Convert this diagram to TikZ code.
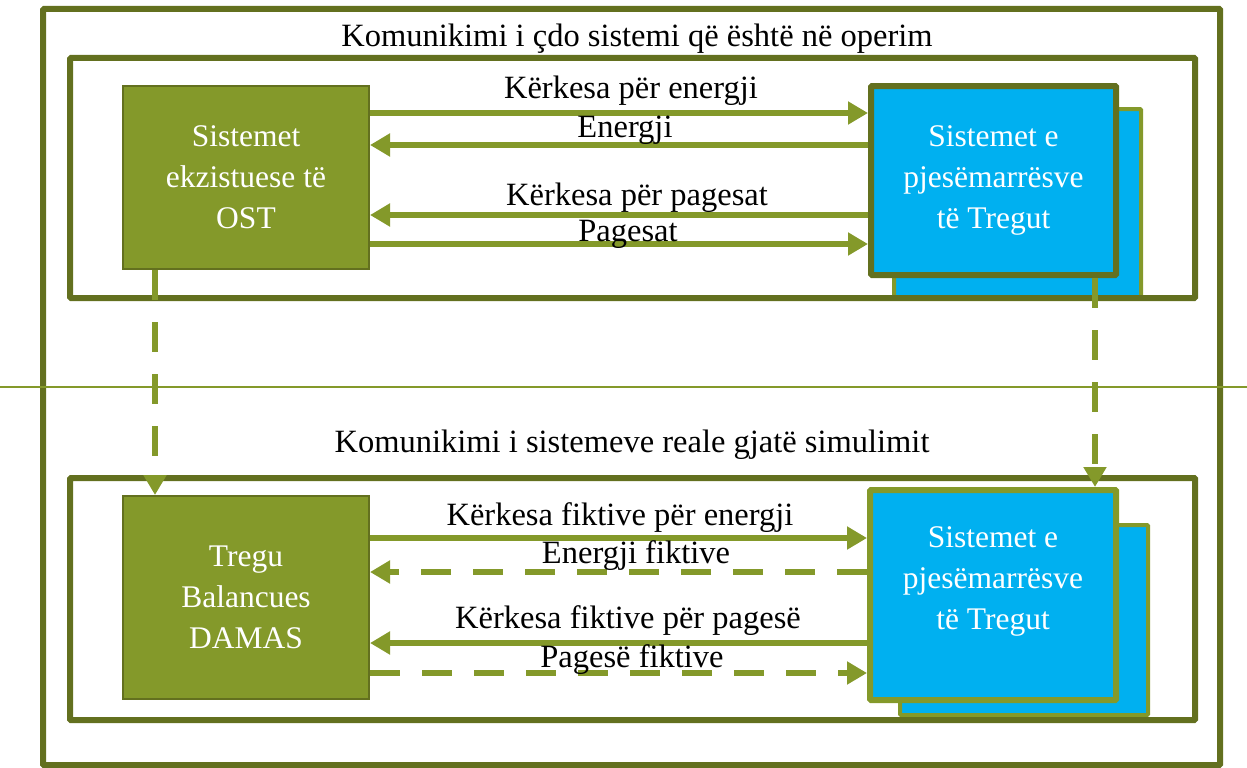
\documentclass[tikz,border=0pt]{standalone}
\usepackage{fontspec}
\setmainfont{Liberation Serif}
\usetikzlibrary{arrows.meta}
\definecolor{dkolive}{HTML}{63701F}
\definecolor{olive}{HTML}{84992A}
\definecolor{skyb}{HTML}{00B0F0}
\tikzset{
  frame/.style={draw=dkolive,line width=6pt,rounded corners=1pt},
  greenbox/.style={fill=olive,draw=dkolive,line width=2pt,inner sep=0pt,text=white,align=center,font=\fontsize{31.5}{41}\selectfont},
  bluefront/.style={fill=skyb,line width=6pt,rounded corners=1pt,inner sep=0pt,text=white,align=center,font=\fontsize{31.5}{41}\selectfont},
  blueback/.style={fill=skyb,draw=olive,line width=4pt,rounded corners=1pt},
  arr/.style={draw=olive,line width=6pt,-{Triangle[length=20pt,width=22pt]}},
  dasharr/.style={arr,dash pattern=on 30pt off 22pt},
  lbl/.style={anchor=base,font=\fontsize{32.5}{36}\selectfont,inner sep=0pt},
}
\begin{document}
\begin{tikzpicture}[x=1pt,y=-1pt]
\useasboundingbox (0,0) rectangle (1247,768);
% outer frame
\draw[frame] (43,9) rectangle (1220,765);
% back blue boxes
\draw[blueback] (894,109) rectangle (1141,298);
\draw[blueback] (900,525) rectangle (1148,715);
% inner frames
\draw[frame] (70,58) rectangle (1195,298);
\draw[frame] (70,478) rectangle (1195,720);
% separator
\draw[draw=olive,line width=2.5pt] (0,387) -- (1247,387);
% titles
\node[lbl] (t1) at (637,47) {Komunikimi i çdo sistemi që është në operim};
\node[lbl] (t2) at (632,452) {Komunikimi i sistemeve reale gjatë simulimit};
% boxes
\node[greenbox,minimum width=246pt,minimum height=183pt] (g1) at (246,177.5) {Sistemet\\ekzistuese të\\OST};
\node[greenbox,minimum width=246pt,minimum height=203pt] (g2) at (246,597.5) {Tregu\\Balancues\\DAMAS};
\node[bluefront,draw=dkolive,minimum width=245pt,minimum height=189pt] (b1) at (993.5,180.5) {Sistemet e\\pjesëmarrësve\\të Tregut};
\node[bluefront,draw=olive,minimum width=246pt,minimum height=210pt] (b2) at (993,595) {Sistemet e\\pjesëmarrësve\\të Tregut\\[-8pt]};
% top arrows
\draw[arr] (g1.east |- 0,113) -- (b1.west |- 0,113);
\draw[arr] (b1.west |- 0,145) -- (g1.east |- 0,145);
\draw[arr] (b1.west |- 0,215) -- (g1.east |- 0,215);
\draw[arr] (g1.east |- 0,244) -- (b1.west |- 0,244);
\node[lbl] (l1) at (631,98) {Kërkesa për energji};
\node[lbl] (l2) at (625,137) {Energji};
\node[lbl] (l3) at (637,205) {Kërkesa për pagesat};
\node[lbl] (l4) at (628,241) {Pagesat};
% bottom arrows
\draw[arr] (g2.east |- 0,538) -- (b2.west |- 0,538);
\draw[dasharr] (b2.west |- 0,572) -- (g2.east |- 0,572);
\draw[arr] (b2.west |- 0,643) -- (g2.east |- 0,643);
\draw[dasharr] (g2.east |- 0,673) -- (b2.west |- 0,673);
\node[lbl] (l5) at (620,525) {Kërkesa fiktive për energji};
\node[lbl] (l6) at (636,563) {Energji fiktive};
\node[lbl] (l7) at (628,628) {Kërkesa fiktive për pagesë};
\node[lbl] (l8) at (632,667) {Pagesë fiktive};
% vertical dashed arrows
\draw[dasharr] (g1.south -| 155,0) -- (g2.north -| 155,0);
\draw[dasharr] (b1.south -| 1095,0) -- (b2.north -| 1095,0);
\end{tikzpicture}
\end{document}
